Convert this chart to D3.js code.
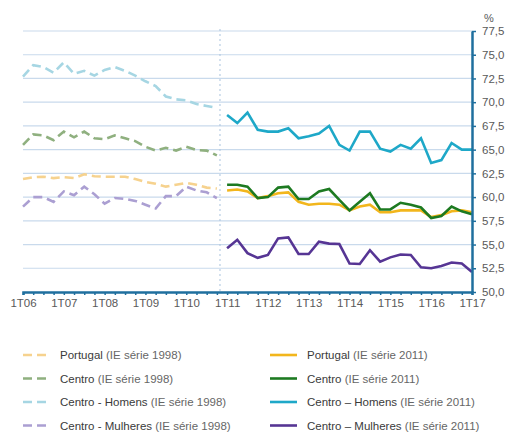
<!DOCTYPE html>
<html>
<head>
<meta charset="utf-8">
<script src="https://cdn.jsdelivr.net/npm/d3@7"></script>
<style>
  body { margin: 0; background: #fff; }
  svg { font-family: "Liberation Sans", Arial, sans-serif; }
</style>
</head>
<body>
<svg id="chart" width="511" height="433"></svg>
<script>
// quarters 1T06 .. 1T17
var quarters = [];
for (var yr = 6; yr <= 17; yr++) {
  for (var q = 1; q <= 4; q++) {
    if (yr == 17 && q > 1) break;
    quarters.push(q + 'T' + (yr < 10 ? '0' + yr : yr));
  }
}
var tickLabels = ['1T06','1T07','1T08','1T09','1T10','1T11','1T12','1T13','1T14','1T15','1T16','1T17'];
var yTicks = [50, 52.5, 55, 57.5, 60, 62.5, 65, 67.5, 70, 72.5, 75, 77.5];

// IE serie 1998: 1T06 .. 4T10
var portugal1998 = [61.9,62.1,62.15,62.0,62.1,62.0,62.4,62.2,62.15,62.15,62.15,61.9,61.6,61.4,61.1,61.3,61.5,61.3,61.0,60.9];
var centro1998   = [65.5,66.6,66.5,66.0,66.9,66.3,66.9,66.2,66.1,66.5,66.2,65.9,65.3,64.9,65.2,64.9,65.3,64.95,64.9,64.4];
var homens1998   = [72.7,73.9,73.7,73.1,74.2,73.0,73.3,72.8,73.4,73.7,73.3,72.8,72.2,71.7,70.6,70.3,70.2,69.8,69.6,69.4];
var mulheres1998 = [59.0,60.0,60.0,59.5,60.6,60.2,61.1,60.3,59.3,59.9,59.8,59.6,59.2,58.8,60.1,60.1,61.1,60.7,60.5,59.9];

// IE serie 2011: 1T11 .. 1T17
var portugal2011 = [60.7,60.8,60.6,59.9,60.1,60.4,60.5,59.5,59.2,59.3,59.3,59.2,58.6,59.0,59.2,58.4,58.4,58.6,58.6,58.6,57.9,58.1,58.5,58.6,58.4];
var centro2011   = [61.3,61.3,61.1,59.9,60.0,61.0,61.1,59.8,59.8,60.6,60.85,59.7,58.6,59.5,60.4,58.7,58.7,59.4,59.2,58.9,57.8,58.0,59.0,58.5,58.2];
var homens2011   = [68.65,67.8,68.9,67.1,66.9,66.9,67.25,66.2,66.4,66.7,67.5,65.5,64.9,66.9,66.9,65.1,64.8,65.5,65.1,66.2,63.6,63.9,65.7,65.0,65.0];
var mulheres2011 = [54.6,55.5,54.1,53.6,53.9,55.65,55.75,54.0,54.0,55.3,55.1,55.05,53.0,52.95,54.4,53.2,53.65,53.95,53.9,52.6,52.5,52.75,53.1,53.0,52.1];

var series = [
  {name: 'Portugal', rest: ' (IE série 1998)', vals: portugal1998, start: 0, color: '#f6d28e', dash: true},
  {name: 'Centro', rest: ' (IE série 1998)', vals: centro1998, start: 0, color: '#8fb07f', dash: true},
  {name: 'Centro - Homens', rest: ' (IE série 1998)', vals: homens1998, start: 0, color: '#a6d6e3', dash: true},
  {name: 'Centro - Mulheres', rest: ' (IE série 1998)', vals: mulheres1998, start: 0, color: '#ab9fd2', dash: true},
  {name: 'Portugal', rest: ' (IE série 2011)', vals: portugal2011, start: 20, color: '#f2b61c', dash: false},
  {name: 'Centro', rest: ' (IE série 2011)', vals: centro2011, start: 20, color: '#1d7a21', dash: false},
  {name: 'Centro – Homens', rest: ' (IE série 2011)', vals: homens2011, start: 20, color: '#1ea8c8', dash: false},
  {name: 'Centro – Mulheres', rest: ' (IE série 2011)', vals: mulheres2011, start: 20, color: '#563594', dash: false}
];

var svg = d3.select('#chart');
var axisColor = '#1f6f9e';

var x = d3.scalePoint().domain(quarters).range([23, 472]);
var y = d3.scaleLinear().domain([50, 77.5]).range([292, 31]);

var pt = d3.formatLocale({decimal: ',', thousands: '.', grouping: [3], currency: ['', '€']});
var fmt = pt.format('.1f');

// gridlines
svg.append('g').selectAll('line')
  .data(yTicks.filter(function(d) { return d > 50; }))
  .enter().append('line')
  .attr('x1', 23).attr('x2', 472)
  .attr('y1', function(d) { return y(d); })
  .attr('y2', function(d) { return y(d); })
  .attr('stroke', '#c9daec').attr('stroke-width', 1.2);

// series break
var xBreak = (x('4T10') + x('1T11')) / 2 - 2;
svg.append('line')
  .attr('x1', xBreak).attr('x2', xBreak)
  .attr('y1', 29).attr('y2', 292)
  .attr('stroke', '#a9c3de').attr('stroke-width', 1)
  .attr('stroke-dasharray', '2,3');

// lines
var line = d3.line()
  .x(function(d) { return x(quarters[d.i]); })
  .y(function(d) { return y(d.v); });

series.forEach(function(s) {
  var pts = s.vals.map(function(v, i) { return {i: s.start + i, v: v}; });
  svg.append('path')
    .datum(pts)
    .attr('d', line)
    .attr('fill', 'none')
    .attr('stroke', s.color)
    .attr('stroke-width', s.dash ? 2.6 : 2.6)
    .attr('stroke-linejoin', 'miter')
    .attr('stroke-dasharray', s.dash ? '9,5' : null);
});

// x axis
var xAxis = d3.axisBottom(x)
  .tickSize(3)
  .tickPadding(4)
  .tickFormat(function(d) { return tickLabels.indexOf(d) >= 0 ? d : ''; });
var gx = svg.append('g').attr('transform', 'translate(0,292)').call(xAxis);
gx.select('.domain').attr('stroke', axisColor).attr('stroke-width', 2.5);
gx.selectAll('.tick line').attr('stroke', axisColor).attr('stroke-width', 1.5);
gx.selectAll('.tick text').attr('fill', '#595959').style('font-size', '11.5px');

// y axis on the right
var yAxis = d3.axisRight(y)
  .tickValues(yTicks)
  .tickSize(4)
  .tickPadding(6)
  .tickSizeOuter(0)
  .tickFormat(function(d) { return fmt(d); });
var gy = svg.append('g').attr('transform', 'translate(472,0)').call(yAxis);
gy.select('.domain').attr('stroke', axisColor).attr('stroke-width', 2.5);
gy.selectAll('.tick line').attr('stroke', axisColor).attr('stroke-width', 1.5);
gy.selectAll('.tick text').attr('fill', '#595959').style('font-size', '11.5px');

svg.append('text')
  .attr('x', 484).attr('y', 22)
  .attr('fill', '#595959').style('font-size', '11px')
  .text('%');

// legend
var legend = svg.append('g');
series.forEach(function(s, i) {
  var col = i < 4 ? 0 : 1;
  var row = i % 4;
  var lx = col ? 270 : 23;
  var ly = 355 + row * 23.5;
  legend.append('line')
    .attr('x1', lx).attr('x2', lx + 27)
    .attr('y1', ly).attr('y2', ly)
    .attr('stroke', s.color).attr('stroke-width', 2.6)
    .attr('stroke-dasharray', s.dash ? '9,5' : null);
  var t = legend.append('text')
    .attr('x', lx + 37).attr('y', ly + 4)
    .style('font-size', '11.5px');
  t.append('tspan').attr('fill', '#3a3a3a').text(s.name);
  t.append('tspan').attr('fill', '#666').text(s.rest);
});
</script>
</body>
</html>
